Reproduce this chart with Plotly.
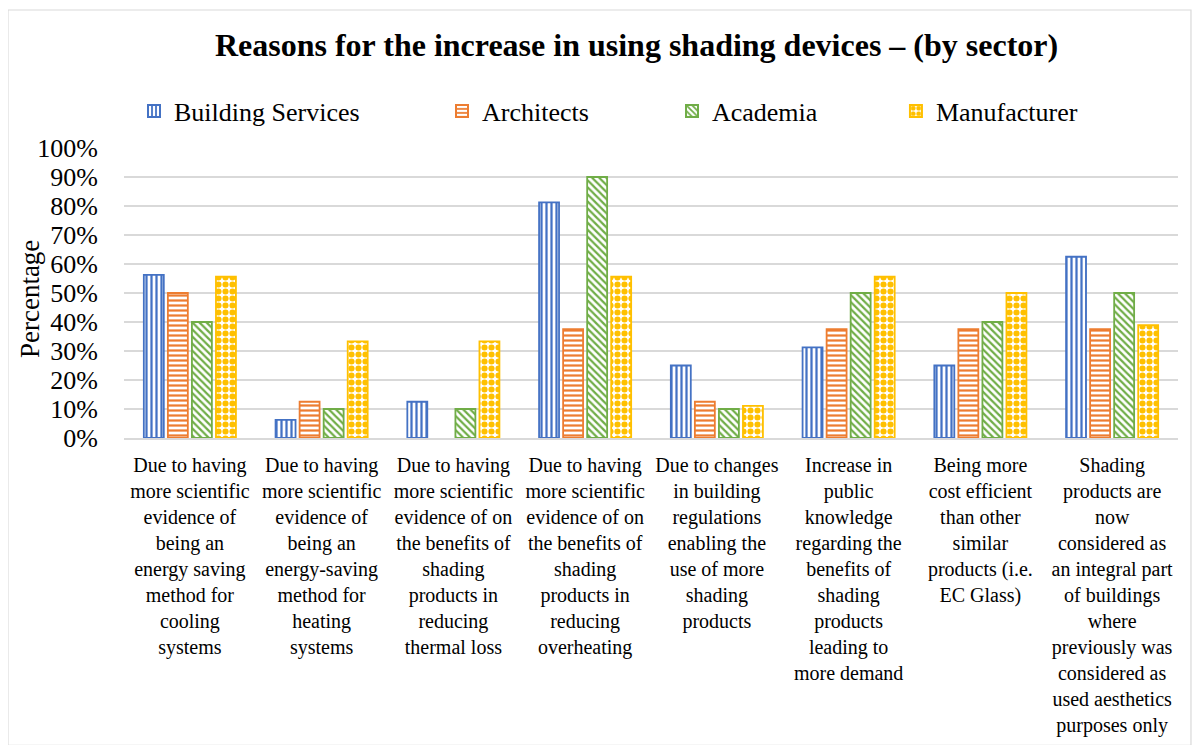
import plotly.graph_objects as go

categories = [
    "Due to having<br>more scientific<br>evidence of<br>being an<br>energy saving<br>method for<br>cooling<br>systems",
    "Due to having<br>more scientific<br>evidence of<br>being an<br>energy-saving<br>method for<br>heating<br>systems",
    "Due to having<br>more scientific<br>evidence of on<br>the benefits of<br>shading<br>products in<br>reducing<br>thermal loss",
    "Due to having<br>more scientific<br>evidence of on<br>the benefits of<br>shading<br>products in<br>reducing<br>overheating",
    "Due to changes<br>in building<br>regulations<br>enabling the<br>use of more<br>shading<br>products",
    "Increase in<br>public<br>knowledge<br>regarding the<br>benefits of<br>shading<br>products<br>leading to<br>more demand",
    "Being more<br>cost efficient<br>than other<br>similar<br>products (i.e.<br>EC Glass)",
    "Shading<br>products are<br>now<br>considered as<br>an integral part<br>of buildings<br>where<br>previously was<br>considered as<br>used aesthetics<br>purposes only",
]

building_services = [56.25, 6.25, 12.5, 81.25, 25.0, 31.25, 25.0, 62.5]
architects = [50.0, 12.5, None, 37.5, 12.5, 37.5, 37.5, 37.5]  # no bar (0%) in group 3
academia = [40.0, 10.0, 10.0, 90.0, 10.0, 50.0, 40.0, 50.0]
manufacturer = [55.6, 33.3, 33.3, 55.6, 11.1, 55.6, 50.0, 38.9]

y_ticks = [0, 10, 20, 30, 40, 50, 60, 70, 80, 90, 100]
y_tick_labels = [f"{v}%" for v in y_ticks]

FONT = "Liberation Serif"

series = [
    ("Building Services", building_services, "#4472C4", "|", "legend", 0.0095),
    ("Architects", architects, "#ED7D31", "-", "legend2", 0.3017),
    ("Academia", academia, "#70AD47", "\\", "legend3", 0.5199),
    ("Manufacturer", manufacturer, "#FFC000", ".", "legend4", 0.7324),
]

fig = go.Figure()
for name, vals, color, shape, leg, lx in series:
    fig.add_trace(go.Bar(
        name=name, x=list(range(len(categories))), y=vals,
        legend=leg,
        marker=dict(
            color="white",
            line=dict(color=color, width=1.8),
            pattern=dict(shape=shape, fgcolor=color, bgcolor="white",
                         size=5 if shape != "." else 7,
                         solidity=0.45 if shape != "." else 0.6,
                         fillmode="replace"),
        ),
    ))

legend_common = dict(orientation="h", font=dict(family=FONT, size=26, color="black"),
                     bgcolor="rgba(0,0,0,0)", yanchor="middle", xanchor="left",
                     y=1.1276, itemwidth=30, itemsizing="constant")
layout_legends = {}
for name, vals, color, shape, leg, lx in series:
    layout_legends[leg] = dict(legend_common, x=lx)

fig.update_layout(
    width=1200, height=745,
    margin=dict(l=116, r=30, t=140, b=315),
    paper_bgcolor="white", plot_bgcolor="white",
    barmode="group", bargap=0.27, bargroupgap=0.17,
    font=dict(family=FONT, color="black"),
    title=dict(text="<b>Reasons for the increase in using shading devices – (by sector)</b>",
               x=0.5238, xanchor="center", xref="container",
               y=0.9503, yanchor="middle", yref="container",
               font=dict(family=FONT, size=32, color="black")),
    showlegend=True,
    **layout_legends,
)

fig.update_xaxes(
    tickmode="array", tickvals=list(range(len(categories))), ticktext=categories,
    tickangle=0, tickfont=dict(family=FONT, size=20, color="black"),
    showline=True, linecolor="#d9d9d9", linewidth=1.5, ticks="", ticklabelstandoff=8,
    range=[-0.5, len(categories) - 0.5], showgrid=False, zeroline=False,
)
fig.update_yaxes(
    range=[0, 100], tickmode="array", tickvals=y_ticks, ticktext=y_tick_labels,
    tickfont=dict(family=FONT, size=26, color="black"),
    showgrid=True, gridcolor="#d9d9d9", gridwidth=1.5, zeroline=False,
    ticks="", ticklabelstandoff=25,
)

fig.add_annotation(text="Percentage", textangle=-90, xref="paper", yref="paper",
                   x=-0.0892, y=0.479, xanchor="center", yanchor="middle",
                   showarrow=False, font=dict(family=FONT, size=27, color="black"))

fig.add_shape(type="rect", xref="paper", yref="paper",
              x0=-0.1101, x1=1.0123, y0=-1.06, y1=1.4759,
              line=dict(color="#d9d9d9", width=1.2), fillcolor="rgba(0,0,0,0)", layer="below")

fig.write_html("out.html")
